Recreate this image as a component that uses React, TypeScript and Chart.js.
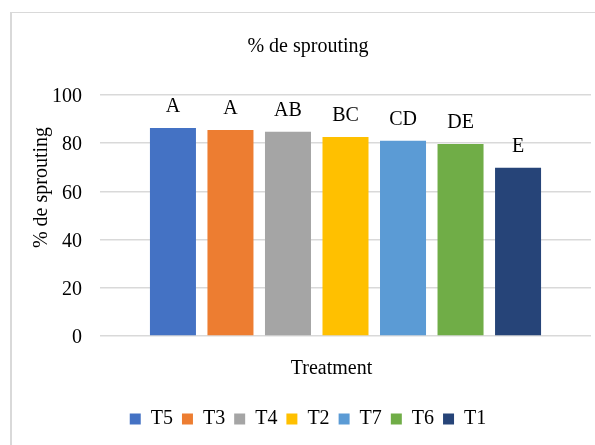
import React, { useEffect, useRef } from "react";
import { Chart, registerables } from "chart.js";

Chart.register(...registerables);

const categories = [""];
const seriesNames = ["T5", "T3", "T4", "T2", "T7", "T6", "T1"];
const seriesValues = [86.3, 85.5, 84.7, 82.6, 81.0, 79.7, 69.8];
const groupLetters = ["A", "A", "AB", "BC", "CD", "DE", "E"];
const seriesColors = ["#4472C4", "#ED7D31", "#A5A5A5", "#FFC000", "#5B9BD5", "#70AD47", "#264478"];
const yMin = 0;
const yMax = 100;
const yStep = 20;
const chartTitle = "% de sprouting";
const xTitle = "Treatment";
const yTitle = "% de sprouting";

const FONT = "'Liberation Serif', 'Times New Roman', serif";

const overlayPlugin = {
  id: "overlay",
  beforeDraw(chart: any) {
    const ctx = chart.ctx;
    ctx.save();
    ctx.fillStyle = "#ffffff";
    ctx.fillRect(0, 0, chart.width, chart.height);
    ctx.fillStyle = "#d9d9d9";
    ctx.fillRect(10, 12, 2, chart.height - 12);
    ctx.fillRect(10, 12, chart.width - 10, 1);
    ctx.restore();
  },
  afterDatasetsDraw(chart: any) {
    const ctx = chart.ctx;
    ctx.save();
    ctx.font = `20px ${FONT}`;
    ctx.fillStyle = "#000000";
    ctx.textAlign = "center";
    ctx.textBaseline = "alphabetic";
    chart.data.datasets.forEach((ds: any, i: number) => {
      const meta = chart.getDatasetMeta(i);
      const bar = meta.data[0];
      if (!bar) return;
      ctx.fillText(groupLetters[i], bar.x, bar.y - 16);
    });
    // axis titles
    const area = chart.chartArea;
    ctx.textBaseline = "middle";
    ctx.fillText(xTitle, (area.left + area.right) / 2 - 14, area.bottom + 33);
    ctx.translate(42, (area.top + area.bottom) / 2 - 28);
    ctx.rotate(-Math.PI / 2);
    ctx.fillText(yTitle, 0, 0);
    ctx.restore();
  },
};

export default function App() {
  const canvasRef = useRef<HTMLCanvasElement | null>(null);

  useEffect(() => {
    if (!canvasRef.current) return;
    const chart = new Chart(canvasRef.current, {
      type: "bar",
      data: {
        labels: categories,
        datasets: seriesNames.map((name, i) => ({
          label: name,
          data: [seriesValues[i]],
          backgroundColor: seriesColors[i],
          borderWidth: 0,
          barPercentage: 0.8,
          categoryPercentage: 0.82,
        })),
      },
      options: {
        animation: false,
        responsive: false,
        devicePixelRatio: 1,
        layout: { padding: { left: 25, right: 4, top: 0, bottom: 6 } },
        plugins: {
          title: {
            display: true,
            text: chartTitle,
            color: "#000000",
            font: { family: FONT, size: 20, weight: "normal" },
            padding: { top: 35, bottom: 36 },
          },
          legend: {
            display: true,
            position: "bottom",
            labels: {
              color: "#000000",
              font: { family: FONT, size: 20 },
              boxWidth: 11,
              boxHeight: 11,
              padding: 9,
            },
          },
          tooltip: { enabled: false },
        },
        scales: {
          x: {
            grid: { display: false },
            border: { display: false },
            ticks: { display: false },
            afterFit: (scale: any) => {
              scale.height = 64;
            },
          },
          y: {
            min: yMin,
            max: yMax,
            ticks: {
              stepSize: yStep,
              color: "#000000",
              font: { family: FONT, size: 20 },
              padding: 18,
              labelOffset: 2,
            },
            grid: { color: "#d9d9d9", lineWidth: 1.5, drawTicks: false },
            border: { display: false },
            afterFit: (scale: any) => {
              scale.width = 75;
            },
          },
        },
      },
      plugins: [overlayPlugin],
    } as any);
    return () => chart.destroy();
  }, []);

  return (
    <div style={{ position: "absolute", left: 0, top: 0, width: 595, height: 445, overflow: "hidden" }}>
      <canvas ref={canvasRef} width={595} height={445} style={{ display: "block", width: 595, height: 445 }} />
    </div>
  );
}
